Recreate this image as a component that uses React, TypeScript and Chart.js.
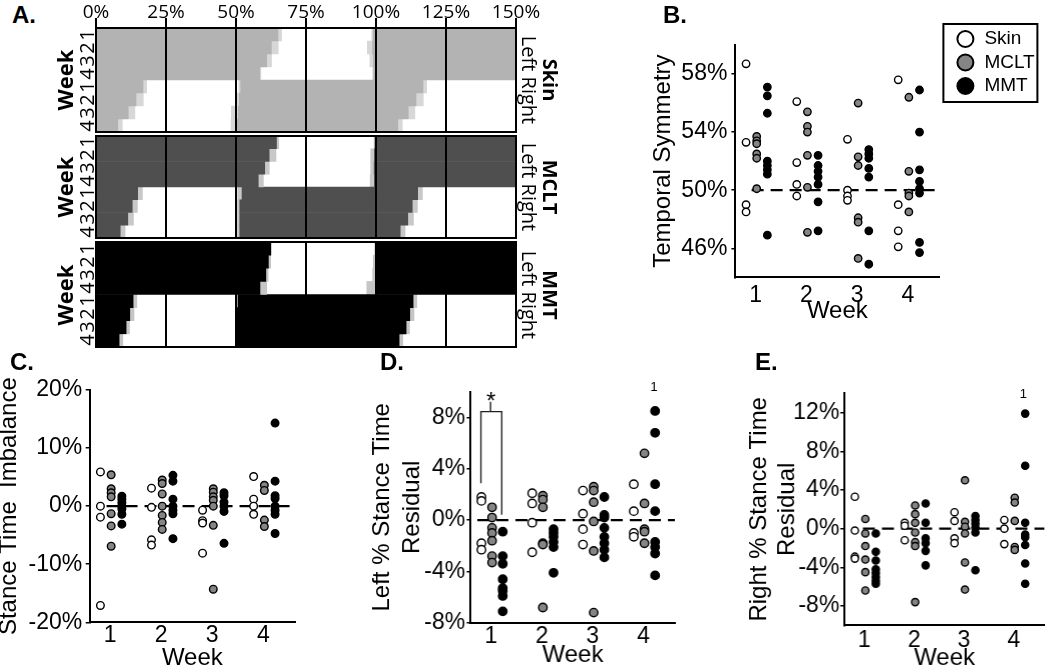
import React, { useEffect, useRef } from 'react';
import { Chart, registerables } from 'chart.js';

Chart.register(...registerables);

// ---------- shared ----------
const weekTicks = [1, 2, 3, 4];
const groupLabels = ['Skin', 'MCLT', 'MMT'];
const groupOffsets = [-0.19, 0.02, 0.23];
const groupFills = ['#ffffff', '#858585', '#000000'];

// ---------- Panel A (gait diagram, % of gait cycle) ----------
const gaitRowLabels = ['L1', 'L2', 'L3', 'L4', 'R1', 'R2', 'R3', 'R4'];
const gaitWeekLabels = ['1', '2', '3', '4', '1', '2', '3', '4'];

const skinLeftToeOff = [65.2, 62.8, 61.1, 58.7];
const skinLeftToeOffSd = [1.2, 2.4, 1.7, 0.3];
const skinLeftStrike = [98.8, 98.6, 98.9, 99.0];
const skinLeftStrikeSd = [0.4, 1.8, 1.2, 0.3];
const skinRightStrike = [51.5, 51.0, 50.7, 50.3];
const skinRightStrikeSd = [0.6, 1.2, 2.5, 2.2];
const skinRightToeOff = [117.0, 114.5, 111.7, 108.0];
const skinRightToeOffSd = [1.2, 2.5, 2.3, 1.5];

const mcltLeftToeOff = [64.6, 62.0, 60.4, 58.1];
const mcltLeftToeOffSd = [0.8, 2.4, 1.6, 1.8];
const mcltLeftStrike = [99.5, 99.3, 99.2, 99.3];
const mcltLeftStrikeSd = [0.3, 1.3, 1.2, 1.5];
const mcltRightStrike = [52.0, 51.2, 51.2, 51.2];
const mcltRightStrikeSd = [1.5, 0.8, 0.8, 0.8];
const mcltRightToeOff = [115.0, 113.1, 111.5, 108.8];
const mcltRightToeOffSd = [1.7, 1.8, 2.0, 1.7];

const mmtLeftToeOff = [62.5, 61.7, 60.8, 58.7];
const mmtLeftToeOffSd = [0.3, 0.8, 0.8, 2.4];
const mmtLeftStrike = [99.7, 99.7, 99.7, 99.8];
const mmtLeftStrikeSd = [0.3, 0.8, 1.0, 3.2];
const mmtRightStrike = [50.6, 50.3, 50.3, 50.3];
const mmtRightStrikeSd = [0.4, 0.2, 0.2, 0.2];
const mmtRightToeOff = [113.4, 112.2, 110.9, 108.4];
const mmtRightToeOffSd = [1.3, 1.5, 1.2, 1.3];

// ---------- Panel B: Temporal Symmetry (%) per week ----------
const bSkin = [[58.7, 53.3, 49.0, 48.5], [56.1, 51.9, 50.4, 49.6], [53.5, 50.0, 49.6, 49.3], [57.6, 49.0, 47.2, 46.1]];
const bMclt = [[53.7, 53.4, 53.2, 52.5, 52.2, 50.1], [55.4, 54.4, 54.0, 52.4, 50.2, 47.1], [56.0, 52.3, 51.7, 48.1, 47.8, 45.3], [56.4, 51.3, 49.8, 49.6, 48.5]];
const bMmt = [[57.1, 56.5, 55.3, 52.0, 51.7, 51.4, 51.1, 46.9], [52.4, 51.7, 51.3, 50.9, 50.4, 49.2, 47.2], [52.8, 52.5, 52.2, 51.5, 50.9, 47.2, 44.9], [56.9, 54.0, 51.4, 50.6, 50.1, 49.8, 46.4, 45.7]];
const bYTicks = [46, 50, 54, 58];
const bRefLevel = 50;

// ---------- Panel C: Stance Time Imbalance (%) ----------
const cSkin = [[5.9, 0, -1.9, -17.1], [3.1, -0.2, -5.8, -6.7], [-0.7, -2.5, -2.9, -8.1], [5.1, 1.2, 0, -1.4]];
const cMclt = [[5.4, 3.0, 2.3, 1.6, -1.3, -3.4, -6.9], [4.5, 3.9, 2.1, 0, -1.6, -2.8, -4.0], [3.0, 2.4, 1.6, 1.0, 0, -3.3, -14.3], [3.6, 2.7, -2.4, -3.5]];
const cMmt = [[1.7, 1.2, 0.6, 0, -0.5, -1.4, -3.1], [5.3, 4.3, 1.2, 0, -0.7, -1.3, -5.6], [2.3, 1.8, 0.7, 0, -0.9, -6.4], [14.3, 4.3, 1.8, 1.3, 0, -0.7, -1.4, -4.7]];
const cYTicks = [-20, -10, 0, 10, 20];
const cRefLevel = 0;

// ---------- Panel D: Left % Stance Time Residual ----------
const dSkin = [[1.8, 1.5, -1.8, -2.3], [2.1, 1.3, -0.2, -2.5], [2.3, 0.5, -0.7, -1.9], [2.8, 0.7, -1.0, -1.3]];
const dMclt = [[1.0, 0.2, -0.6, -1.0, -1.6, -2.8, -3.3], [1.9, 1.6, 1.0, -1.8, -1.9, -6.8], [2.6, 2.3, 1.4, -0.1, -2.4, -7.2], [5.2, 1.3, -0.7, -0.9, -1.8]];
const dMmt = [[-0.9, -2.8, -3.4, -4.6, -5.3, -5.5, -5.9, -7.1], [-0.7, -1.0, -1.3, -1.7, -2.1, -4.1], [1.8, 0.4, 0.2, -0.6, -1.3, -1.8, -2.3, -2.9], [8.5, 6.8, 2.8, 0.7, -1.7, -2.1, -2.6, -4.3]];
const dYTicks = [-8, -4, 0, 4, 8];
const dRefLevel = 0;
const dBracketX = [0.8, 0.8, 1.21, 1.21];
const dBracketY = [2.88, 8.45, 8.45, 0.42];
const dStemX = [0.99, 0.99];
const dStemY = [8.45, 9.22];

// ---------- Panel E: Right % Stance Time Residual ----------
const eSkin = [[3.3, -0.2, -2.9, -3.1], [0.6, 0.3, -1.2], [1.7, 0.8, -1.0, -1.5], [0.9, 0, -1.6]];
const eMclt = [[1.0, -0.5, -1.8, -3.2, -4.5, -6.4], [2.4, 1.5, 0.6, -0.4, -1.4, -1.8, -7.6], [5.0, 0.7, 0.2, -0.5, -3.5, -6.3], [3.2, 2.7, 0.8, -1.9, -2.2]];
const eMmt = [[-0.5, -2.4, -3.3, -4.2, -4.6, -5.0, -5.4, -5.7], [2.6, 0.6, -1.0, -1.5, -2.3, -3.8], [1.3, 0.9, 0.5, 0.1, -0.4, -4.3], [11.9, 6.5, 0.6, -0.6, -0.9, -1.7, -3.6, -5.7]];
const eYTicks = [-8, -4, 0, 4, 8, 12];
const eRefLevel = 0;

const SANS = '"Liberation Sans", Arial, Helvetica, sans-serif';
const OPEN = '"Open Sans", "Noto Sans", sans-serif';

type Rect = { left: number; top: number; width: number; height: number };

function ChartCanvas({ rect, build }: { rect: Rect; build: () => any }) {
  const ref = useRef<HTMLCanvasElement>(null);
  useEffect(() => {
    const chart = new Chart(ref.current as HTMLCanvasElement, build());
    return () => chart.destroy();
  }, []);
  return (
    <canvas
      ref={ref}
      width={rect.width}
      height={rect.height}
      style={{ position: 'absolute', left: rect.left, top: rect.top, width: rect.width, height: rect.height, display: 'block' }}
    />
  );
}

// ---------- plugins ----------
const frameBoxPlugin = {
  id: 'frameBox',
  afterDraw(chart: any) {
    const { ctx, chartArea: a } = chart;
    ctx.save();
    ctx.strokeStyle = '#000';
    ctx.lineWidth = 2;
    ctx.strokeRect(a.left, a.top, a.right - a.left, a.bottom - a.top);
    ctx.restore();
  },
};

const notesPlugin = {
  id: 'notes',
  afterDatasetsDraw(chart: any, _args: any, opts: any) {
    const items = (opts && opts.items) || [];
    const { ctx } = chart;
    ctx.save();
    for (const n of items) {
      ctx.font = `${n.size}px ${SANS}`;
      ctx.fillStyle = '#000';
      ctx.textAlign = 'center';
      ctx.textBaseline = 'middle';
      ctx.fillText(n.text, chart.scales.x.getPixelForValue(n.x), chart.scales.y.getPixelForValue(n.y));
    }
    ctx.restore();
  },
};

const boxLegendPlugin = {
  id: 'boxLegend',
  afterDraw(chart: any, _args: any, opts: any) {
    if (!opts || !opts.show) return;
    const { ctx } = chart;
    const bx = opts.left;
    const by = opts.top;
    ctx.save();
    ctx.lineWidth = 2;
    ctx.strokeStyle = '#000';
    ctx.strokeRect(bx, by, opts.width, opts.height);
    const items = chart.data.datasets.filter((d: any) => d.type === 'scatter');
    items.forEach((d: any, i: number) => {
      const cy = by + opts.firstRow + i * opts.rowGap;
      ctx.beginPath();
      ctx.arc(bx + opts.markX, cy, opts.radius, 0, Math.PI * 2);
      ctx.fillStyle = d.pointBackgroundColor;
      ctx.fill();
      ctx.lineWidth = 2;
      ctx.strokeStyle = '#000';
      ctx.stroke();
      ctx.fillStyle = '#000';
      ctx.font = `19px ${SANS}`;
      ctx.textAlign = 'left';
      ctx.textBaseline = 'middle';
      ctx.fillText(d.label, bx + opts.textX, cy);
    });
    ctx.restore();
  },
};

// ---------- Panel A config ----------
type Gait = {
  stance: string; sd: string;
  lto: number[]; ltoSd: number[]; lhs: number[]; lhsSd: number[];
  rhs: number[]; rhsSd: number[]; rto: number[]; rtoSd: number[];
};

const gaitSkin: Gait = {
  stance: '#b3b3b3', sd: '#d7d7d7',
  lto: skinLeftToeOff, ltoSd: skinLeftToeOffSd, lhs: skinLeftStrike, lhsSd: skinLeftStrikeSd,
  rhs: skinRightStrike, rhsSd: skinRightStrikeSd, rto: skinRightToeOff, rtoSd: skinRightToeOffSd,
};
const gaitMclt: Gait = {
  stance: '#4f4f4f', sd: '#c8c8c8',
  lto: mcltLeftToeOff, ltoSd: mcltLeftToeOffSd, lhs: mcltLeftStrike, lhsSd: mcltLeftStrikeSd,
  rhs: mcltRightStrike, rhsSd: mcltRightStrikeSd, rto: mcltRightToeOff, rtoSd: mcltRightToeOffSd,
};
const gaitMmt: Gait = {
  stance: '#000000', sd: '#c6c6c6',
  lto: mmtLeftToeOff, ltoSd: mmtLeftToeOffSd, lhs: mmtLeftStrike, lhsSd: mmtLeftStrikeSd,
  rhs: mmtRightStrike, rhsSd: mmtRightStrikeSd, rto: mmtRightToeOff, rtoSd: mmtRightToeOffSd,
};

function gaitConfig(g: Gait, showAxis: boolean, padTop: number) {
  const W = [0, 1, 2, 3];
  const earlyStance = [...W.map(i => [0, g.lto[i]]), ...W.map(i => [0, g.rto[i] - 100])];
  const earlySd = [...W.map(i => [g.lto[i], g.lto[i] + g.ltoSd[i]]), ...W.map(i => [g.rto[i] - 100, g.rto[i] - 100 + g.rtoSd[i]])];
  const midStance = [...W.map(i => [g.lhs[i], 150]), ...W.map(i => [g.rhs[i], g.rto[i]])];
  const midSd = [...W.map(i => [g.lhs[i] - g.lhsSd[i], g.lhs[i]]), ...W.map(i => [g.rhs[i] - g.rhsSd[i], g.rhs[i]])];
  const lateSd = [...W.map(() => null), ...W.map(i => [g.rto[i], g.rto[i] + g.rtoSd[i]])];
  const mk = (data: any[], color: string) => ({
    data, backgroundColor: color, borderWidth: 0, grouped: false,
    barPercentage: 1.04, categoryPercentage: 1,
  });
  return {
    type: 'bar',
    data: {
      labels: gaitRowLabels,
      datasets: [mk(earlyStance, g.stance), mk(earlySd, g.sd), mk(midStance, g.stance), mk(midSd, g.sd), mk(lateSd, g.sd)],
    },
    options: {
      indexAxis: 'y',
      responsive: false,
      animation: false,
      events: [],
      layout: { padding: { left: 56, right: 44, top: padTop, bottom: 2 } },
      plugins: { legend: { display: false }, tooltip: { enabled: false } },
      scales: {
        x: {
          type: 'linear', min: 0, max: 150, position: 'top',
          ticks: {
            display: showAxis, stepSize: 25, autoSkip: false, maxRotation: 0, padding: 0,
            callback: (v: any) => v + '%', color: '#000',
            font: { family: OPEN, size: 19, lineHeight: 0.6 },
          },
          grid: { color: '#000', lineWidth: 2, z: 1, drawTicks: showAxis, tickLength: 10 },
          border: { display: true, color: '#000', width: 2, z: 1 },
          afterFit: (s: any) => { s.height = showAxis ? 28 : 0; },
        },
        y: { type: 'category', display: false, offset: true },
      },
    },
    plugins: [frameBoxPlugin],
  };
}

// ---------- scatter panels ----------
type ScatterSpec = {
  canvas: Rect;
  area: { left: number; top: number; right: number; bottom: number };
  yMin: number; yMax: number; yTicks: number[];
  yTitle: string | string[]; yTitleLH: number;
  series: number[][][];
  refLevel: number; refStart: number;
  radius: number; yPad: number; xPad: number;
  lines?: { x: number[]; y: number[] }[];
  notes?: { x: number; y: number; text: string; size: number }[];
  legend?: any;
};

const X_MIN = 0.6;
const X_MAX = 4.62;

function scatterConfig(p: ScatterSpec) {
  const c = p.canvas;
  const groupSets = p.series.map((weeks, si) => ({
    type: 'scatter',
    label: groupLabels[si],
    data: weeks.flatMap((vals, wi) => vals.map(v => ({ x: weekTicks[wi] + groupOffsets[si], y: v }))),
    pointRadius: p.radius,
    pointBorderWidth: 1.4,
    pointBackgroundColor: groupFills[si],
    pointBorderColor: '#000',
    order: 1,
  }));
  const refSet = {
    type: 'line',
    label: 'ref',
    data: [{ x: p.refStart, y: p.refLevel }, { x: X_MAX, y: p.refLevel }],
    borderColor: '#000', borderWidth: 2.2, borderDash: [12, 7], pointRadius: 0, fill: false, order: 5,
  };
  const lineSets = (p.lines || []).map(l => ({
    type: 'line',
    label: 'bracket',
    data: l.x.map((x, i) => ({ x, y: l.y[i] })),
    borderColor: '#222', borderWidth: 1.4, pointRadius: 0, fill: false, tension: 0, order: 4,
  }));
  const tickFont = { family: SANS, size: 23 };
  const titleFontY = { family: SANS, size: 24, lineHeight: p.yTitleLH };
  return {
    type: 'scatter',
    data: { datasets: [...groupSets, refSet, ...lineSets] },
    options: {
      responsive: false,
      animation: false,
      events: [],
      layout: { padding: { left: 0, bottom: 0, top: p.area.top - c.top, right: c.left + c.width - p.area.right } },
      plugins: {
        legend: { display: false },
        tooltip: { enabled: false },
        notes: { items: p.notes || [] },
        boxLegend: p.legend || { show: false },
      },
      scales: {
        x: {
          type: 'linear', min: X_MIN, max: X_MAX,
          afterBuildTicks: (s: any) => { s.ticks = weekTicks.map(v => ({ value: v })); },
          ticks: { callback: (v: any) => String(v), color: '#000', font: tickFont, padding: p.xPad, maxRotation: 0, autoSkip: false },
          grid: { drawOnChartArea: false, drawTicks: false },
          border: { color: '#000', width: 2 },
          title: { display: true, text: 'Week', color: '#000', font: { family: SANS, size: 24, lineHeight: 1.2 }, padding: 0 },
          afterFit: (s: any) => { s.height = c.top + c.height - p.area.bottom; },
        },
        y: {
          type: 'linear', min: p.yMin, max: p.yMax,
          afterBuildTicks: (s: any) => { s.ticks = p.yTicks.map(v => ({ value: v })); },
          ticks: { callback: (v: any) => v + '%', color: '#000', font: tickFont, padding: p.yPad, autoSkip: false },
          grid: { drawOnChartArea: false, drawTicks: true, tickLength: 4, color: '#000', lineWidth: 1.5 },
          border: { color: '#000', width: 2 },
          title: { display: true, text: p.yTitle, color: '#000', font: titleFontY, padding: 0 },
          afterFit: (s: any) => { s.width = p.area.left - c.left; },
        },
      },
    },
    plugins: [notesPlugin, boxLegendPlugin],
  };
}

const bCanvas = { left: 648.6, top: 0, width: 401.4, height: 326 };
const specB: ScatterSpec = {
  canvas: bCanvas,
  area: { left: 735, top: 45, right: 939.3, bottom: 277.3 },
  yMin: 44, yMax: 60, yTicks: bYTicks,
  yTitle: 'Temporal Symmetry', yTitleLH: 1.2,
  series: [bSkin, bMclt, bMmt],
  refLevel: bRefLevel, refStart: 0.92,
  radius: 3.7, yPad: 4, xPad: 5,
  legend: {
    show: true, left: 943 - bCanvas.left, top: 24, width: 94, height: 78,
    markX: 22, textX: 41, firstRow: 15, rowGap: 23.5, radius: 8,
  },
};

const specC: ScatterSpec = {
  canvas: { left: -5.4, top: 340, width: 345.4, height: 333.4 },
  area: { left: 89.3, top: 390, right: 295, bottom: 622.7 },
  yMin: -20, yMax: 20, yTicks: cYTicks,
  yTitle: 'Stance Time  Imbalance', yTitleLH: 1.2,
  series: [cSkin, cMclt, cMmt],
  refLevel: cRefLevel, refStart: 0.93,
  radius: 3.8, yPad: 3.5, xPad: 0,
};

const specD: ScatterSpec = {
  canvas: { left: 368.25, top: 340, width: 351.75, height: 330.4 },
  area: { left: 470.7, top: 391.7, right: 675, bottom: 623.3 },
  yMin: -8, yMax: 10, yTicks: dYTicks,
  yTitle: ['Left % Stance Time', 'Residual'], yTitleLH: 1.23,
  series: [dSkin, dMclt, dMmt],
  refLevel: dRefLevel, refStart: 0.73,
  radius: 4.2, yPad: 1.5, xPad: 0,
  lines: [{ x: dBracketX, y: dBracketY }, { x: dStemX, y: dStemY }],
  notes: [
    { x: 1.0, y: 9.15, text: '*', size: 24 },
    { x: 4.21, y: 10.3, text: '1', size: 13 },
  ],
};

const specE: ScatterSpec = {
  canvas: { left: 746.2, top: 340, width: 303.8, height: 333.4 },
  area: { left: 844.3, top: 393.3, right: 1046, bottom: 625.7 },
  yMin: -10, yMax: 14, yTicks: eYTicks,
  yTitle: ['Right % Stance Time', 'Residual'], yTitleLH: 1.15,
  series: [eSkin, eMclt, eMmt],
  refLevel: eRefLevel, refStart: 0.97,
  radius: 3.6, yPad: 1, xPad: 2,
  notes: [{ x: 4.19, y: 13.9, text: '1', size: 13 }],
};

// ---------- Panel A layout ----------
const gaitPanels = [
  { name: 'Skin', g: gaitSkin, canvas: { left: 40, top: 0, width: 520, height: 134 }, padTop: 0, areaTop: 28, areaBottom: 132, axis: true },
  { name: 'MCLT', g: gaitMclt, canvas: { left: 40, top: 134, width: 520, height: 106 }, padTop: 2, areaTop: 136, areaBottom: 238, axis: false },
  { name: 'MMT', g: gaitMmt, canvas: { left: 40, top: 240, width: 520, height: 109 }, padTop: 2, areaTop: 242, areaBottom: 347, axis: false },
];

function RotText({ cx, cy, text, rot, size, bold, family }: { cx: number; cy: number; text: string; rot: number; size: number; bold?: boolean; family: string }) {
  return (
    <div
      style={{
        position: 'absolute', left: cx, top: cy, whiteSpace: 'nowrap', lineHeight: 1,
        transform: `translate(-50%, -50%) rotate(${rot}deg)`,
        fontFamily: family, fontSize: size, fontWeight: bold ? 700 : 400, color: '#000',
      }}
    >
      {text}
    </div>
  );
}

function PanelLetter({ left, top, text }: { left: number; top: number; text: string }) {
  return (
    <div style={{ position: 'absolute', left, top, fontFamily: SANS, fontWeight: 700, fontSize: 24, color: '#000', lineHeight: 1 }}>
      {text}
    </div>
  );
}

export default function App() {
  return (
    <div style={{ position: 'absolute', left: 0, top: 0, width: 1050, height: 669, background: '#fff', overflow: 'hidden' }}>
      {gaitPanels.map(p => (
        <ChartCanvas key={p.name} rect={p.canvas} build={() => gaitConfig(p.g, p.axis, p.padTop)} />
      ))}
      {gaitPanels.map(p => {
        const mid = (p.areaTop + p.areaBottom) / 2;
        const rowH = (p.areaBottom - p.areaTop) / 8;
        return (
          <React.Fragment key={p.name + '-labels'}>
            <RotText cx={64} cy={mid} text="Week" rot={-90} size={22} bold family={OPEN} />
            {gaitWeekLabels.map((t, i) => (
              <RotText key={i} cx={86.5} cy={p.areaTop + (i + 0.5) * rowH} text={t} rot={-90} size={20} family={OPEN} />
            ))}
            <RotText cx={528.5} cy={mid} text="Left Right" rot={90} size={20} family={OPEN} />
            <RotText cx={550} cy={mid} text={p.name} rot={90} size={20} bold family={OPEN} />
          </React.Fragment>
        );
      })}
      <ChartCanvas rect={specB.canvas} build={() => scatterConfig(specB)} />
      <ChartCanvas rect={specC.canvas} build={() => scatterConfig(specC)} />
      <ChartCanvas rect={specD.canvas} build={() => scatterConfig(specD)} />
      <ChartCanvas rect={specE.canvas} build={() => scatterConfig(specE)} />
      <PanelLetter left={12} top={3} text="A." />
      <PanelLetter left={663} top={3} text="B." />
      <PanelLetter left={10} top={350} text="C." />
      <PanelLetter left={380} top={350} text="D." />
      <PanelLetter left={755} top={350} text="E." />
    </div>
  );
}
